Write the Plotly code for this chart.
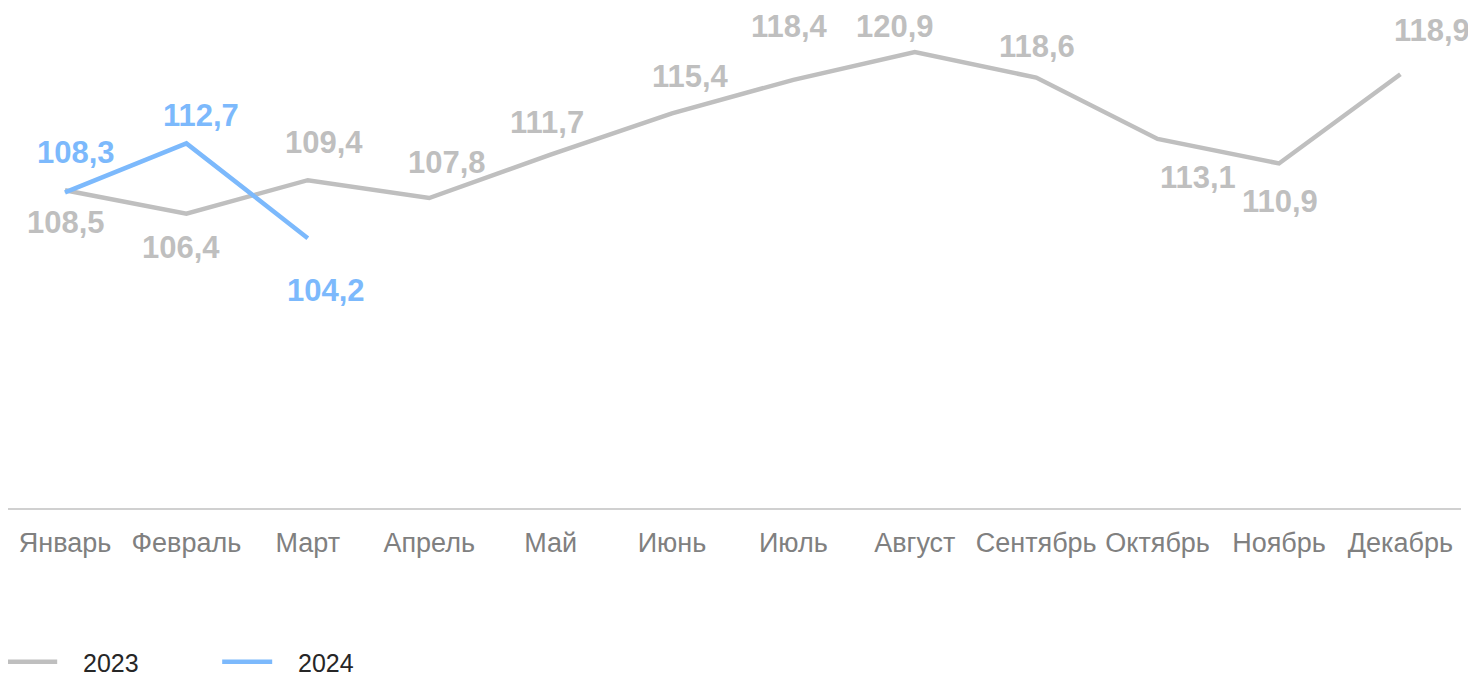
import plotly.graph_objects as go

months = ["Январь", "Февраль", "Март", "Апрель", "Май", "Июнь", "Июль",
          "Август", "Сентябрь", "Октябрь", "Ноябрь", "Декабрь"]
values_2023 = [108.5, 106.4, 109.4, 107.8, 111.7, 115.4, 118.4, 120.9, 118.6, 113.1, 110.9, 118.9]
values_2024 = [108.3, 112.7, 104.2]

# label placement offsets (px, dx right, dy down)
off_2023 = [(1, 32), (-5, 34), (16, -38), (18, -36), (-4, -32), (18, -37),
            (-4, -53), (-20, -25), (1, -31), (40, 39), (1, 38), (32, -44)]
off_2024 = [(11, -40), (15, -28), (18, 52)]

GRAY = "#bfbfbf"
BLUE = "#7cb9fc"
NB = "\u00a0"

def fmt(v):
    return f"{v:.1f}".replace(".", ",")

fig = go.Figure()
fig.add_trace(go.Scatter(x=months, y=values_2023, mode="lines", name=NB * 3 + "2023",
                         line=dict(color=GRAY, width=4.5)))
fig.add_trace(go.Scatter(x=months[:len(values_2024)], y=values_2024, mode="lines", name=NB * 3 + "2024",
                         line=dict(color=BLUE, width=4.5)))

annotations = []
for m, v, (dx, dy) in zip(months, values_2023, off_2023):
    annotations.append(dict(x=m, y=v, text=fmt(v), showarrow=False, xshift=dx, yshift=-dy,
                            font=dict(family="Liberation Sans, Arial", size=31, color=GRAY, weight="bold")))
for m, v, (dx, dy) in zip(months, values_2024, off_2024):
    annotations.append(dict(x=m, y=v, text=fmt(v), showarrow=False, xshift=dx, yshift=-dy,
                            font=dict(family="Liberation Sans, Arial", size=31, color=BLUE, weight="bold")))

PX_PER_CAT = 121.4
PLOT_W = 1453
x0 = -57 / PX_PER_CAT

fig.update_layout(
    width=1476, height=674,
    margin=dict(l=0, r=1476 - PLOT_W, t=0, b=174, autoexpand=False),
    paper_bgcolor="white", plot_bgcolor="white",
    font=dict(family="Liberation Sans, Arial", color="#595959"),
    annotations=annotations,
    xaxis=dict(type="category", categoryorder="array", categoryarray=months,
               range=[x0, x0 + PLOT_W / PX_PER_CAT], showgrid=False, zeroline=False,
               showline=True, linecolor="#d0d0d0", linewidth=2, automargin=False,
               ticks="outside", ticklen=10, tickcolor="rgba(0,0,0,0)",
               tickfont=dict(size=27, color="#808080")),
    yaxis=dict(range=[80, 80 + 500 / 11.15], visible=False, showgrid=False, zeroline=False,
               automargin=False),
    legend=dict(orientation="h", x=-0.004, xanchor="left", y=-0.308, yanchor="middle",
                font=dict(size=25, color="#262626"), itemwidth=50, entrywidth=150,
                bgcolor="rgba(0,0,0,0)"),
)

fig.write_html("out.html")
